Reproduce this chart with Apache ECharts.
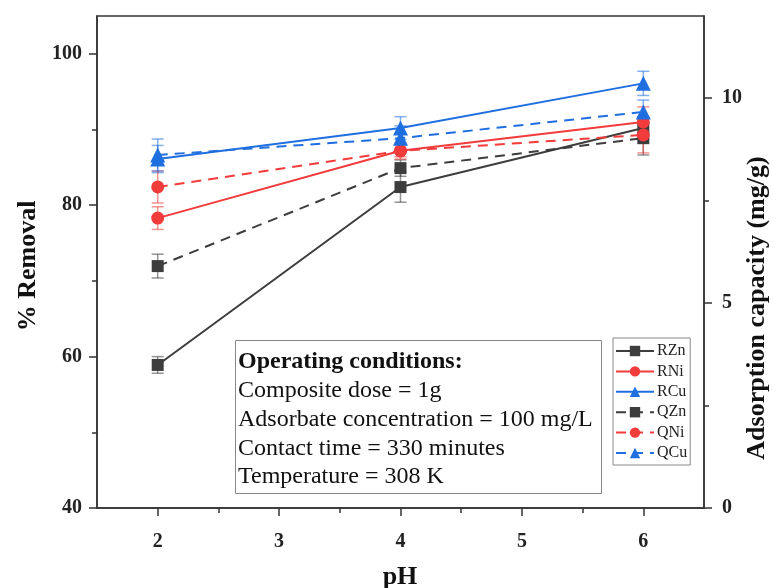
<!DOCTYPE html>
<html>
<head>
<meta charset="utf-8">
<script src="https://cdn.jsdelivr.net/npm/echarts@6/dist/echarts.min.js"></script>
<style>
  html, body { margin: 0; padding: 0; background: #fff; }
  #chart { width: 773px; height: 588px; }
</style>
</head>
<body>
<div id="chart"></div>
<script>
// pH values at which removal / capacity were measured
const pH = [2, 4, 6];

// % Removal (left axis)
const RZn = [58.9, 82.4, 90.2];
const RNi = [78.3, 87.2, 91.0];
const RCu = [86.1, 90.2, 96.1];
const RZnErr = [1.1, 2.0, 1.5];
const RNiErr = [1.5, 0.8, 2.0];
const RCuErr = [1.8, 1.5, 1.6];

// Adsorption capacity, mg/g (right axis)
const QZn = [5.90, 8.29, 9.02];
const QNi = [7.83, 8.71, 9.10];
const QCu = [8.61, 9.02, 9.66];
const QZnErr = [0.29, 0.20, 0.41];
const QNiErr = [0.39, 0.20, 0.44];
const QCuErr = [0.39, 0.30, 0.29];

// Axis ticks
const xTicks = [2, 3, 4, 5, 6];
const xMinorTicks = [2.5, 3.5, 4.5, 5.5];
const leftTicks = [40, 60, 80, 100];
const leftMinorTicks = [50, 70, 90];
const rightTicks = [0, 5, 10];
const rightMinorTicks = [2.5, 7.5];

// Text of the conditions box
const conditionsTitle = 'Operating conditions:';
const conditionsLines = [
  'Composite dose = 1g',
  'Adsorbate concentration = 100 mg/L',
  'Contact time = 330 minutes',
  'Temperature = 308 K'
];

const SERIF = '"Liberation Serif", "Times New Roman", serif';
const AXIS_COLOR = '#333';
const BLACK = '#3d3d3d';
const RED = '#f23b3b';
const BLUE = '#1f6fe0';

const chart = echarts.init(document.getElementById('chart'), null, { renderer: 'canvas' });

function pairs(vals) {
  return pH.map((x, i) => [x, vals[i]]);
}

function lineSeries(name, vals, yAxisIndex, color, symbol, size, dashed) {
  return {
    name: name,
    type: 'line',
    xAxisIndex: 0,
    yAxisIndex: yAxisIndex,
    data: pairs(vals),
    symbol: symbol,
    symbolSize: size,
    showSymbol: true,
    z: 5,
    itemStyle: { color: color, opacity: 1 },
    lineStyle: { color: color, width: 2, type: dashed ? [10, 7] : 'solid' },
    emphasis: { disabled: true },
    animation: false
  };
}

function errorSeries(name, vals, errs, yAxisIndex, color) {
  return {
    name: name,
    type: 'custom',
    xAxisIndex: 0,
    yAxisIndex: yAxisIndex,
    z: 2,
    silent: true,
    animation: false,
    data: pH.map((x, i) => [x, vals[i] - errs[i], vals[i] + errs[i]]),
    encode: { x: 0, y: [1, 2] },
    renderItem: function (params, api) {
      const lo = api.coord([api.value(0), api.value(1)]);
      const hi = api.coord([api.value(0), api.value(2)]);
      const cap = 6;
      const style = { stroke: color, lineWidth: 1.5, opacity: 0.55 };
      return {
        type: 'group',
        children: [
          { type: 'line', shape: { x1: lo[0], y1: lo[1], x2: hi[0], y2: hi[1] }, style: style },
          { type: 'line', shape: { x1: lo[0] - cap, y1: lo[1], x2: lo[0] + cap, y2: lo[1] }, style: style },
          { type: 'line', shape: { x1: hi[0] - cap, y1: hi[1], x2: hi[0] + cap, y2: hi[1] }, style: style }
        ]
      };
    }
  };
}

const tickLabelStyle = { fontFamily: SERIF, fontSize: 20, fontWeight: 'bold', color: '#222' };

const option = {
  backgroundColor: '#fff',
  animation: false,
  grid: {
    left: 97, right: 69, top: 16, bottom: 80,
    show: true, borderColor: AXIS_COLOR, borderWidth: 1.5, backgroundColor: 'transparent'
  },
  xAxis: [
    {
      type: 'value', min: 1.5, max: 6.5, position: 'bottom',
      axisLine: { show: true, lineStyle: { color: AXIS_COLOR, width: 1.5 } },
      axisTick: { show: true, customValues: xTicks, length: 8, lineStyle: { color: AXIS_COLOR, width: 1.5 } },
      axisLabel: Object.assign({ customValues: xTicks, margin: 24 }, tickLabelStyle),
      splitLine: { show: false }
    },
    {
      type: 'value', min: 1.5, max: 6.5, position: 'bottom',
      axisLine: { show: false },
      axisTick: { show: true, customValues: xMinorTicks, length: 5, lineStyle: { color: AXIS_COLOR, width: 1.5 } },
      axisLabel: { show: false },
      splitLine: { show: false }
    }
  ],
  yAxis: [
    {
      type: 'value', min: 40, max: 105, position: 'left',
      axisLine: { show: true, lineStyle: { color: AXIS_COLOR, width: 1.5 } },
      axisTick: { show: true, customValues: leftTicks, length: 8, lineStyle: { color: AXIS_COLOR, width: 1.5 } },
      axisLabel: Object.assign({ customValues: leftTicks, margin: 15 }, tickLabelStyle),
      splitLine: { show: false }
    },
    {
      type: 'value', min: 0, max: 12, position: 'right',
      axisLine: { show: true, lineStyle: { color: AXIS_COLOR, width: 1.5 } },
      axisTick: { show: true, customValues: rightTicks, length: 8, lineStyle: { color: AXIS_COLOR, width: 1.5 } },
      axisLabel: Object.assign({ customValues: rightTicks, margin: 18 }, tickLabelStyle),
      splitLine: { show: false }
    },
    {
      type: 'value', min: 40, max: 105, position: 'left',
      axisLine: { show: false },
      axisTick: { show: true, customValues: leftMinorTicks, length: 5, lineStyle: { color: AXIS_COLOR, width: 1.5 } },
      axisLabel: { show: false },
      splitLine: { show: false }
    },
    {
      type: 'value', min: 0, max: 12, position: 'right',
      axisLine: { show: false },
      axisTick: { show: true, customValues: rightMinorTicks, length: 5, lineStyle: { color: AXIS_COLOR, width: 1.5 } },
      axisLabel: { show: false },
      splitLine: { show: false }
    }
  ],
  legend: {
    orient: 'vertical',
    left: 613, top: 338,
    data: ['RZn', 'RNi', 'RCu', 'QZn', 'QNi', 'QCu'],
    itemWidth: 38, itemHeight: 13, itemGap: 4.4,
    padding: [5, 3, 4, 2],
    borderColor: '#888', borderWidth: 1, backgroundColor: '#fff',
    textStyle: { fontFamily: SERIF, fontSize: 16, color: '#222', padding: [0, 0, 0, -2] },
    selectedMode: false
  },
  graphic: [
    // axis titles
    {
      type: 'text', z: 10, rotation: Math.PI / 2,
      x: 28, y: 266,
      style: { text: '% Removal', font: 'bold 26px ' + SERIF, fill: '#111', align: 'center', verticalAlign: 'middle' }
    },
    {
      type: 'text', z: 10, rotation: Math.PI / 2,
      x: 757, y: 308,
      style: { text: 'Adsorption capacity (mg/g)', font: 'bold 26px ' + SERIF, fill: '#111', align: 'center', verticalAlign: 'middle' }
    },
    {
      type: 'text', z: 10,
      x: 400, y: 577,
      style: { text: 'pH', font: 'bold 26px ' + SERIF, fill: '#111', align: 'center', verticalAlign: 'middle' }
    },
    // operating conditions box
    {
      type: 'rect', z: 8,
      shape: { x: 235.5, y: 340.5, width: 366, height: 153 },
      style: { fill: '#fff', stroke: '#888', lineWidth: 1 }
    },
    {
      type: 'text', z: 9, x: 238, y: 362,
      style: { text: conditionsTitle, font: 'bold 24px ' + SERIF, fill: '#111', verticalAlign: 'middle' }
    }
  ].concat(conditionsLines.map((t, i) => ({
    type: 'text', z: 9, x: 238, y: 391 + i * 28.7,
    style: { text: t, font: '24px ' + SERIF, fill: '#111', verticalAlign: 'middle' }
  }))),
  series: [
    errorSeries('RZn error', RZn, RZnErr, 0, BLACK),
    errorSeries('RNi error', RNi, RNiErr, 0, RED),
    errorSeries('RCu error', RCu, RCuErr, 0, BLUE),
    errorSeries('QZn error', QZn, QZnErr, 1, BLACK),
    errorSeries('QNi error', QNi, QNiErr, 1, RED),
    errorSeries('QCu error', QCu, QCuErr, 1, BLUE),
    lineSeries('RZn', RZn, 0, BLACK, 'rect', 12, false),
    lineSeries('RNi', RNi, 0, RED, 'circle', 13, false),
    lineSeries('RCu', RCu, 0, BLUE, 'triangle', 15, false),
    lineSeries('QZn', QZn, 1, BLACK, 'rect', 12, true),
    lineSeries('QNi', QNi, 1, RED, 'circle', 13, true),
    lineSeries('QCu', QCu, 1, BLUE, 'triangle', 15, true)
  ]
};

chart.setOption(option);
</script>
</body>
</html>
